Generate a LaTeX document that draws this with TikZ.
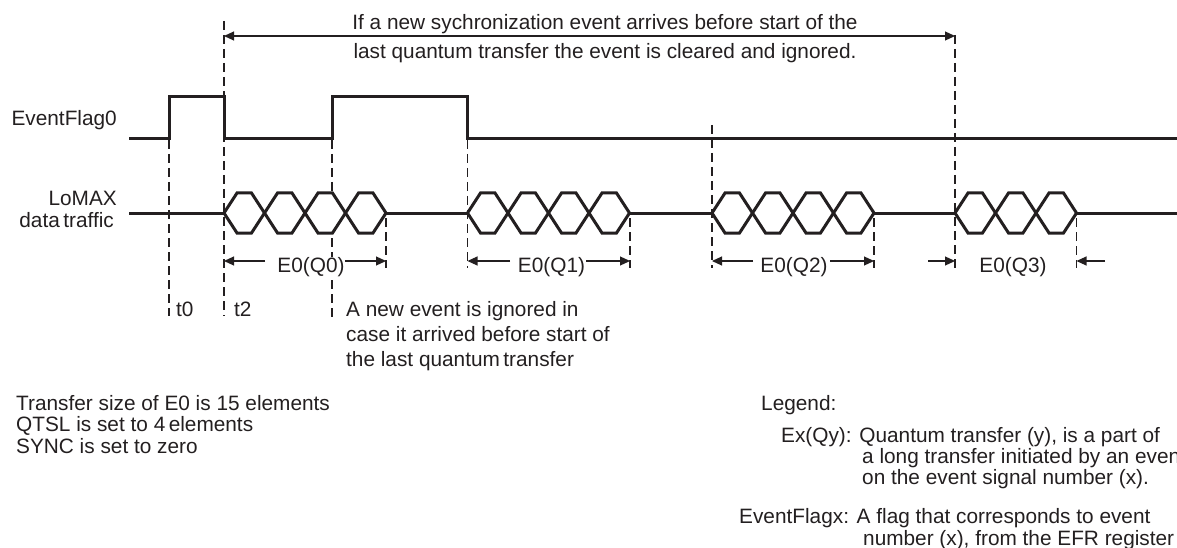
\documentclass[tikz,border=0pt]{standalone}
\usepackage{fontspec}
\setmainfont{Liberation Sans}
\usetikzlibrary{arrows.meta}
\definecolor{ink}{HTML}{231F20}
\begin{document}
\begin{tikzpicture}[x=1pt,y=-1pt,
  wave/.style={draw=ink,line width=3pt,line join=miter},
  bus/.style={wave,fill=white},
  guide/.style={draw=ink,line width=1.1pt,dash pattern=on 9pt off 5pt},
  dim/.style={draw=ink,line width=1.1pt,-{Triangle[length=10pt,width=9pt]}},
  txt/.style={inner sep=0pt,text=ink,font=\fontsize{20.8}{24}\selectfont},
  lbl/.style={txt,fill=white,inner xsep=1pt},
]
\useasboundingbox (0,0) rectangle (1177,548);
\clip (0,0) rectangle (1177,548);

% ---- dashed time markers ----
\foreach \n/\x/\ya/\yb in {m0/169/140/316, m2/224/21/316, m3/332/140/317,
    m4/467.5/140/268, m5/712/125/268, m6/955/35/268,
    e0/386/218/268, e1/630/218/268, e2/874/218/268, e3/1076.5/218/268}{
  \coordinate (\n top) at (\x,\ya);
  \coordinate (\n bot) at (\x,\yb);
  \draw[guide] (\n top) -- (\n bot);
}

% ---- signal names ----
\node[txt,anchor=base east] (flagname) at (117,125.5) {EventFlag0};
\node[txt,anchor=base east] (busname1) at (117,205) {LoMAX};
\node[txt,anchor=base east] (busname2) at (114,227) {data\,traffic};

% ---- EventFlag0 waveform ----
\draw[wave] (129,139) -- (169,139) -- (169,97) -- (224,97) -- (224,139)
  -- (332,139) -- (332,97) -- (467.5,97) -- (467.5,139) -- (1177,139);

% ---- data traffic: idle line and quantum transfers ----
\draw[wave] (129,213) -- (224,213);
\draw[wave] (386,213) -- (467.5,213);
\draw[wave] (630,213) -- (712,213);
\draw[wave] (874,213) -- (955,213);
\draw[wave] (1076.5,213) -- (1177,213);
\foreach \s/\k in {224/4,467.5/4,712/4,955/3}{
  \foreach \i in {1,...,\k}{
    \pgfmathsetmacro\a{\s+(\i-1)*40.5}
    \pgfmathsetmacro\b{\a+40.5}
    \draw[bus] (\a,213) -- (\a+13,193) -- (\b-13,193) -- (\b,213)
      -- (\b-13,233) -- (\a+13,233) -- cycle;
  }
}

% ---- window of the cleared/ignored event ----
\coordinate (winL) at (224,36);
\coordinate (winR) at (955,36);
\draw[draw=ink,line width=1.1pt,{Triangle[length=10pt,width=9pt]}-{Triangle[length=10pt,width=9pt]}] (winL) -- (winR);
\node[txt,anchor=base] (note1) at (605,30) {If a new sychronization event arrives before start of the};
\node[txt,anchor=base] (note2) at (605,59) {last quantum transfer the event is cleared and ignored.};

% ---- quantum transfer labels ----
\node[lbl,anchor=base] (q0) at (311,272) {E0(Q0)};
\node[lbl,anchor=base] (q1) at (551.5,272) {E0(Q1)};
\node[lbl,anchor=base] (q2) at (794,272) {E0(Q2)};
\node[lbl,anchor=base] (q3) at (1013,272) {E0(Q3)};

\coordinate (q0a) at (265,261);  \coordinate (q0L) at (224,261);
\coordinate (q0b) at (345,261);  \coordinate (q0R) at (386,261);
\coordinate (q1a) at (510,261);  \coordinate (q1L) at (467.5,261);
\coordinate (q1b) at (586,261);  \coordinate (q1R) at (630,261);
\coordinate (q2a) at (753,261);  \coordinate (q2L) at (712,261);
\coordinate (q2b) at (830,261);  \coordinate (q2R) at (874,261);
\coordinate (q3a) at (928,261);  \coordinate (q3L) at (955,261);
\coordinate (q3b) at (1105,261); \coordinate (q3R) at (1076.5,261);
\draw[dim] (q0a) -- (q0L);  \draw[dim] (q0b) -- (q0R);
\draw[dim] (q1a) -- (q1L);  \draw[dim] (q1b) -- (q1R);
\draw[dim] (q2a) -- (q2L);  \draw[dim] (q2b) -- (q2R);
\draw[dim] (q3a) -- (q3L);  \draw[dim] (q3b) -- (q3R);

% ---- time labels and remark ----
\node[txt,anchor=base west] (t0) at (176,316) {t0};
\node[txt,anchor=base west] (t2) at (234,316) {t2};
\node[txt,anchor=base west] (rem1) at (346,316) {A new event is ignored in};
\node[txt,anchor=base west] (rem2) at (346,341) {case it arrived before start of};
\node[txt,anchor=base west] (rem3) at (346,366) {the last quantum\,transfer};

% ---- settings ----
\node[txt,anchor=base west] (set1) at (16,410) {Transfer size of E0 is 15 elements};
\node[txt,anchor=base west] (set2) at (16,431.5) {QTSL is set to 4\,elements};
\node[txt,anchor=base west] (set3) at (16,453) {SYNC is set to zero};

% ---- legend ----
\node[txt,anchor=base west] (leg) at (761,410) {Legend:};
\node[txt,anchor=base west] (leg1) at (781,442) {Ex(Qy): Quantum transfer (y), is a part of};
\node[txt,anchor=base west] (leg2) at (862,463) {a long transfer initiated by an event};
\node[txt,anchor=base west] (leg3) at (862,484) {on the event signal number (x).};
\node[txt,anchor=base west] (leg4) at (739,523) {EventFlagx: A flag that corresponds to event};
\node[txt,anchor=base west] (leg5) at (863,545) {number (x), from the EFR register};
\end{tikzpicture}
\end{document}
